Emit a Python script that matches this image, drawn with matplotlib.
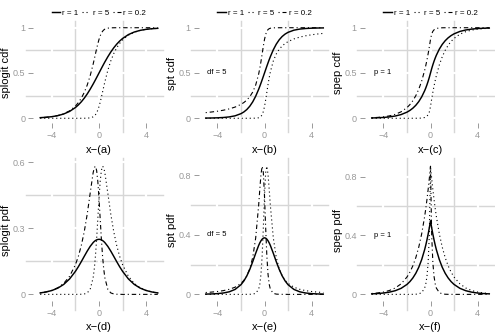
import matplotlib
matplotlib.use("Agg")
import matplotlib.pyplot as plt

plt.rcParams['font.family'] = ['Liberation Sans', 'DejaVu Sans']

# ---------------- data ----------------
X = [-5, -4.5, -4, -3.5, -3, -2.5, -2, -1.75, -1.5, -1.25, -1, -0.75, -0.5, -0.4, -0.3,
     -0.2, -0.1, 0, 0.1, 0.2, 0.3, 0.4, 0.5, 0.75, 1, 1.25, 1.5, 1.75, 2, 2.5, 3, 3.5,
     4, 4.5, 5]

splogit_cdf_r1 = [0.0067, 0.0110, 0.0180, 0.0293, 0.0474, 0.0759, 0.1192, 0.1480, 0.1824, 0.2227,
                  0.2689, 0.3208, 0.3775, 0.4013, 0.4256, 0.4502, 0.4750, 0.5000, 0.5250, 0.5498,
                  0.5744, 0.5987, 0.6225, 0.6792, 0.7311, 0.7773, 0.8176, 0.8520, 0.8808, 0.9241,
                  0.9526, 0.9707, 0.9820, 0.9890, 0.9933]
splogit_cdf_r5 = [0.0, 0.0, 0.0, 0.0, 0.0, 0.0, 0.0, 0.0, 0.0001, 0.0004,
                  0.0013, 0.0046, 0.0157, 0.0251, 0.0395, 0.0607, 0.0905, 0.1294, 0.1770, 0.2310,
                  0.2884, 0.3465, 0.4030, 0.5298, 0.6326, 0.7136, 0.7769, 0.8262, 0.8647, 0.9179,
                  0.9502, 0.9698, 0.9817, 0.9889, 0.9933]
splogit_cdf_r02 = [0.0067, 0.0111, 0.0183, 0.0302, 0.0498, 0.0821, 0.1353, 0.1738, 0.2231, 0.2864,
                   0.3674, 0.4702, 0.5970, 0.6535, 0.7116, 0.7690, 0.8230, 0.8706, 0.9095, 0.9393,
                   0.9605, 0.9749, 0.9843, 0.9954, 0.9987, 0.9996, 0.9999, 1.0, 1.0, 1.0,
                   1.0, 1.0, 1.0, 1.0, 1.0]
splogit_pdf_r1 = [0.0066, 0.0109, 0.0177, 0.0285, 0.0452, 0.0701, 0.1050, 0.1261, 0.1491, 0.1731,
                  0.1966, 0.2179, 0.2350, 0.2403, 0.2445, 0.2475, 0.2494, 0.2500, 0.2494, 0.2475,
                  0.2445, 0.2403, 0.2350, 0.2179, 0.1966, 0.1731, 0.1491, 0.1261, 0.1050, 0.0701,
                  0.0452, 0.0285, 0.0177, 0.0109, 0.0066]
splogit_pdf_r5 = [0.0, 0.0, 0.0, 0.0, 0.0, 0.0, 0.0, 0.0002, 0.0006, 0.0019,
                  0.0067, 0.0229, 0.0747, 0.1162, 0.1752, 0.2526, 0.3434, 0.4353, 0.5123, 0.5622,
                  0.5818, 0.5756, 0.5518, 0.4594, 0.3649, 0.2858, 0.2230, 0.1737, 0.1353, 0.0821,
                  0.0498, 0.0302, 0.0183, 0.0111, 0.0067]
splogit_pdf_r02 = [0.0067, 0.0111, 0.0183, 0.0302, 0.0498, 0.0821, 0.1353, 0.1737, 0.2230, 0.2858,
                   0.3649, 0.4594, 0.5518, 0.5756, 0.5818, 0.5622, 0.5123, 0.4353, 0.3434, 0.2526,
                   0.1752, 0.1162, 0.0747, 0.0229, 0.0067, 0.0019, 0.0006, 0.0002, 0.0, 0.0,
                   0.0, 0.0, 0.0, 0.0, 0.0]

spt_cdf_r1 = [0.0021, 0.0032, 0.0052, 0.0086, 0.0150, 0.0272, 0.0510, 0.0703, 0.0970, 0.1333,
              0.1816, 0.2435, 0.3191, 0.3528, 0.3881, 0.4247, 0.4621, 0.5000, 0.5379, 0.5753,
              0.6119, 0.6472, 0.6809, 0.7565, 0.8184, 0.8667, 0.9030, 0.9297, 0.9490, 0.9728,
              0.9850, 0.9914, 0.9948, 0.9968, 0.9979]
spt_cdf_r5 = [0.0, 0.0, 0.0, 0.0, 0.0, 0.0, 0.0, 0.0, 0.0001, 0.0002,
              0.0004, 0.0013, 0.0055, 0.0104, 0.0202, 0.0393, 0.0740, 0.1294, 0.2042, 0.2891,
              0.3729, 0.4486, 0.5135, 0.6331, 0.7099, 0.7617, 0.7984, 0.8256, 0.8464, 0.8762,
              0.8964, 0.9110, 0.9220, 0.9306, 0.9375]
spt_cdf_r02 = [0.0625, 0.0694, 0.0780, 0.0890, 0.1036, 0.1238, 0.1536, 0.1744, 0.2016, 0.2383,
               0.2901, 0.3669, 0.4865, 0.5514, 0.6271, 0.7109, 0.7958, 0.8706, 0.9260, 0.9607,
               0.9798, 0.9896, 0.9945, 0.9987, 0.9996, 0.9998, 0.9999, 1.0, 1.0, 1.0,
               1.0, 1.0, 1.0, 1.0, 1.0]
spt_pdf_r1 = [0.0018, 0.0029, 0.0051, 0.0092, 0.0173, 0.0333, 0.0651, 0.0905, 0.1245, 0.1679,
              0.2197, 0.2757, 0.3279, 0.3454, 0.3598, 0.3706, 0.3773, 0.3796, 0.3773, 0.3706,
              0.3598, 0.3454, 0.3279, 0.2757, 0.2197, 0.1679, 0.1245, 0.0905, 0.0651, 0.0333,
              0.0173, 0.0092, 0.0051, 0.0029, 0.0018]
spt_pdf_r5 = [0.0, 0.0, 0.0, 0.0, 0.0, 0.0, 0.0, 0.0001, 0.0002, 0.0006,
              0.0018, 0.0069, 0.0341, 0.0679, 0.1351, 0.2579, 0.4460, 0.6609, 0.8177, 0.8600,
              0.8054, 0.7042, 0.5951, 0.3782, 0.2483, 0.1720, 0.1250, 0.0944, 0.0737, 0.0482,
              0.0339, 0.0251, 0.0193, 0.0153, 0.0124]
spt_pdf_r02 = [0.0124, 0.0153, 0.0193, 0.0251, 0.0339, 0.0482, 0.0737, 0.0944, 0.1250, 0.1720,
               0.2483, 0.3782, 0.5951, 0.7042, 0.8054, 0.8600, 0.8177, 0.6609, 0.4460, 0.2579,
               0.1351, 0.0679, 0.0341, 0.0069, 0.0018, 0.0006, 0.0002, 0.0001, 0.0, 0.0,
               0.0, 0.0, 0.0, 0.0, 0.0]

spep_cdf_r1 = [0.0034, 0.0056, 0.0092, 0.0151, 0.0249, 0.0410, 0.0677, 0.0869, 0.1116, 0.1433,
               0.1839, 0.2362, 0.3033, 0.3352, 0.3704, 0.4094, 0.4524, 0.5000, 0.5476, 0.5906,
               0.6296, 0.6648, 0.6967, 0.7638, 0.8161, 0.8567, 0.8884, 0.9131, 0.9323, 0.9590,
               0.9751, 0.9849, 0.9908, 0.9944, 0.9966]
spep_cdf_r5 = [0.0, 0.0, 0.0, 0.0, 0.0, 0.0, 0.0, 0.0, 0.0001, 0.0002,
               0.0007, 0.0024, 0.0083, 0.0139, 0.0234, 0.0398, 0.0697, 0.1294, 0.2123, 0.2873,
               0.3551, 0.4165, 0.4720, 0.5888, 0.6797, 0.7506, 0.8058, 0.8487, 0.8822, 0.9285,
               0.9567, 0.9737, 0.9841, 0.9903, 0.9941]
spep_cdf_r02 = [0.0059, 0.0097, 0.0159, 0.0263, 0.0433, 0.0715, 0.1178, 0.1513, 0.1942, 0.2494,
                0.3203, 0.4112, 0.5280, 0.5835, 0.6449, 0.7127, 0.7877, 0.8706, 0.9303, 0.9602,
                0.9766, 0.9861, 0.9917, 0.9976, 0.9993, 0.9998, 0.9999, 1.0, 1.0, 1.0,
                1.0, 1.0, 1.0, 1.0, 1.0]
spep_pdf_r1 = [0.0034, 0.0056, 0.0092, 0.0151, 0.0249, 0.0410, 0.0677, 0.0869, 0.1116, 0.1433,
               0.1839, 0.2362, 0.3033, 0.3352, 0.3704, 0.4094, 0.4524, 0.5000, 0.4524, 0.4094,
               0.3704, 0.3352, 0.3033, 0.2362, 0.1839, 0.1433, 0.1116, 0.0869, 0.0677, 0.0410,
               0.0249, 0.0151, 0.0092, 0.0056, 0.0034]
spep_pdf_r5 = [0.0, 0.0, 0.0, 0.0, 0.0, 0.0, 0.0, 0.0001, 0.0003, 0.0010,
               0.0034, 0.0119, 0.0424, 0.0716, 0.1226, 0.2164, 0.4049, 0.8706, 0.7877, 0.7127,
               0.6449, 0.5835, 0.5280, 0.4112, 0.3203, 0.2494, 0.1942, 0.1513, 0.1178, 0.0715,
               0.0433, 0.0263, 0.0159, 0.0097, 0.0059]
spep_pdf_r02 = [0.0059, 0.0097, 0.0159, 0.0263, 0.0433, 0.0715, 0.1178, 0.1513, 0.1942, 0.2494,
                0.3203, 0.4112, 0.5280, 0.5835, 0.6449, 0.7127, 0.7877, 0.8706, 0.4049, 0.2164,
                0.1226, 0.0716, 0.0424, 0.0119, 0.0034, 0.0010, 0.0003, 0.0001, 0.0, 0.0,
                0.0, 0.0, 0.0, 0.0, 0.0]

legend_labels = ["r = 1", "r = 5", "r = 0.2"]
x_ticks = [-4, 0, 4]
x_tick_labels = ["\u22124", "0", "4"]
x_grid = [-2, 2]

panels = [
    # row, col, (r1, r5, r02), ylabel, xlabel, yticks, yticklabels, ygrid, note
    (0, 0, (splogit_cdf_r1, splogit_cdf_r5, splogit_cdf_r02), "splogit cdf", "x\u2212(a)",
     [0, 0.5, 1], ["0", "0.5", "1"], [0.25, 0.75], None),
    (0, 1, (spt_cdf_r1, spt_cdf_r5, spt_cdf_r02), "spt cdf", "x\u2212(b)",
     [0, 0.5, 1], ["0", "0.5", "1"], [0.25, 0.75], "df = 5"),
    (0, 2, (spep_cdf_r1, spep_cdf_r5, spep_cdf_r02), "spep cdf", "x\u2212(c)",
     [0, 0.5, 1], ["0", "0.5", "1"], [0.25, 0.75], "p = 1"),
    (1, 0, (splogit_pdf_r1, splogit_pdf_r5, splogit_pdf_r02), "splogit pdf", "x\u2212(d)",
     [0, 0.3, 0.6], ["0", "0.3", "0.6"], [0.15, 0.45], None),
    (1, 1, (spt_pdf_r1, spt_pdf_r5, spt_pdf_r02), "spt pdf", "x\u2212(e)",
     [0, 0.4, 0.8], ["0", "0.4", "0.8"], [0.2, 0.6], "df = 5"),
    (1, 2, (spep_pdf_r1, spep_pdf_r5, spep_pdf_r02), "spep pdf", "x\u2212(f)",
     [0, 0.4, 0.8], ["0", "0.4", "0.8"], [0.2, 0.6], "p = 1"),
]

# ---------------- layout (pixels) ----------------
W, H, DPI = 495, 332, 100
col_left = [35.5, 201.0, 367.0]
col_w = 127.0
row_top = [24.1, 161.1]
row_h = [97.8, 138.4]

GRID = "#d6d6d6"
TICK = "#999999"

fig = plt.figure(figsize=(W / DPI, H / DPI), dpi=DPI)

for (row, col, series, ylab, xlab, yt, ytl, yg, note) in panels:
    L, T, w, h = col_left[col], row_top[row], col_w, row_h[row]
    ax = fig.add_axes([L / W, 1 - (T + h) / H, w / W, h / H])
    r1, r5, r02 = series
    l1, = ax.plot(X, r1, color="black", lw=1.05, ls="-", zorder=3)
    l5, = ax.plot(X, r5, color="black", lw=0.8, ls=(0, (1, 2.6)), zorder=3)
    l02, = ax.plot(X, r02, color="black", lw=0.8, ls=(0, (1, 2.6, 4, 2.6)), zorder=3)
    ax.margins(x=0.04, y=0.04)
    ax.autoscale_view()
    ax.set_xlim(ax.get_xlim())
    ax.set_ylim(ax.get_ylim())

    ext_l = 10.0 / w
    ext_b = 10.0 / h
    ext_t = 3.0 / h
    ytr = ax.get_yaxis_transform()
    xtr = ax.get_xaxis_transform()
    for yv in yg:
        ax.plot([-ext_l, 1.0], [yv, yv], transform=ytr, color=GRID, lw=1.0,
                clip_on=False, zorder=0.5)
    for xv in x_grid:
        ax.plot([xv, xv], [-ext_b, 1 + ext_t], transform=xtr, color=GRID, lw=1.0,
                clip_on=False, zorder=0.5)
    for yv in yt:
        ax.plot([-ext_l, 1.0], [yv, yv], transform=ytr, color="white", lw=1.6,
                clip_on=False, zorder=0.6)
    for xv in x_ticks:
        ax.plot([xv, xv], [-ext_b, 1 + ext_t], transform=xtr, color="white", lw=1.6,
                clip_on=False, zorder=0.6)

    for s in ax.spines.values():
        s.set_visible(False)
    ax.spines["left"].set_position(("outward", 1.6))
    ax.spines["bottom"].set_position(("outward", 1.0))
    ax.set_xticks(x_ticks)
    ax.set_xticklabels(x_tick_labels)
    ax.set_yticks(yt)
    ax.set_yticklabels(ytl)
    ax.tick_params(direction="out", length=3.6, width=0.7, color=TICK,
                   labelcolor=TICK, labelsize=6.5, pad=2.2)
    ax.patch.set_alpha(0)

    if note:
        ax.text(-4.1, yt[1], note, ha="center", va="center", fontsize=5.5, color="black")

    cy = T + h / 2
    fig.text((L - 29.3) / W, 1 - cy / H, ylab, rotation=90, ha="center", va="center",
             fontsize=8, color="black")
    fig.text((L + w / 2) / W, 1 - (T + h + 28.0) / H, xlab, ha="center", va="center",
             fontsize=8, color="black")

    if row == 0:
        ax.legend([l1, l5, l02], legend_labels, loc="center",
                  bbox_to_anchor=(0.5, 1 + (T - 12.7) / h), ncol=3, frameon=False,
                  fontsize=5.8, handlelength=1.0, handletextpad=0.3, columnspacing=0.45,
                  borderpad=0, borderaxespad=0)

fig.savefig("out.png", dpi=DPI)
